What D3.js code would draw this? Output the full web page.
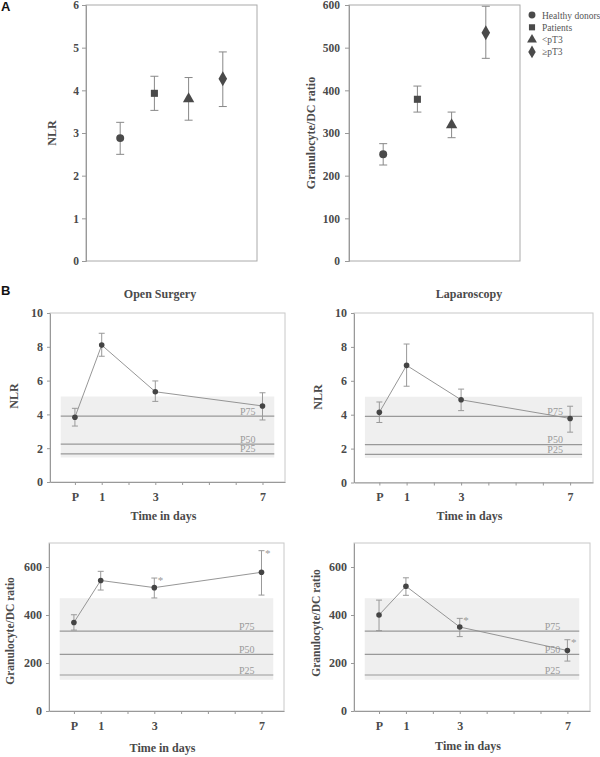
<!DOCTYPE html>
<html>
<head>
<meta charset="utf-8">
<title>NLR and Granulocyte/DC ratio</title>
<script src="https://cdn.jsdelivr.net/npm/d3@7/dist/d3.min.js"></script>
<style>
    body { margin: 0; background: #fff; }
    svg { display: block; }
    .lab { font-family: "Liberation Serif", serif; font-weight: bold; fill: #4a4a4a; }
    .domain, .tick line { stroke: #999; }
    .pct { font-family: "Liberation Serif", serif; font-size: 10px; fill: #9a9a9a; }
    .legend { font-family: "Liberation Serif", serif; font-size: 9.5px; fill: #555; }
    .panel { font-family: "Liberation Sans", Arial, sans-serif; font-weight: bold; font-size: 13px; fill: #111; }
</style>
</head>
<body>
<svg id="chart" width="600" height="757"></svg>
<script>
// panel A: groups
var groupNames = ["Healthy donors", "Patients", "<pT3", "\u2265pT3"];
var groupPos = [1, 2, 3, 4];
var nlrA = [2.88, 3.93, 3.8, 4.27];
var nlrALow = [2.5, 3.53, 3.3, 3.62];
var nlrAHigh = [3.25, 4.33, 4.3, 4.9];
var gdcA = [250, 379, 319, 535];
var gdcALow = [225, 349, 289, 475];
var gdcAHigh = [275, 410, 349, 597];
var nlrATicks = [0, 1, 2, 3, 4, 5, 6];
var gdcATicks = [0, 100, 200, 300, 400, 500, 600];

// panel B: time course
var days = [0, 1, 3, 7];
var dayLabels = ["P", "1", "3", "7"];
var dayTicks = [0, 1, 2, 3, 4, 5, 6, 7];
var openNlr = [3.83, 8.1, 5.34, 4.5];
var openNlrLow = [3.31, 7.44, 4.77, 3.67];
var openNlrHigh = [4.36, 8.8, 5.98, 5.28];
var lapNlr = [4.14, 6.91, 4.88, 3.78];
var lapNlrLow = [3.54, 5.68, 4.24, 2.97];
var lapNlrHigh = [4.75, 8.17, 5.51, 4.5];
var openGdc = [369, 544, 514, 578];
var openGdcLow = [337, 504, 471, 483];
var openGdcHigh = [401, 582, 554, 668];
var lapGdc = [400, 520, 350, 252];
var lapGdcLow = [335, 482, 310, 208];
var lapGdcHigh = [462, 555, 386, 297];
var openGdcStar = [0, 0, 1, 1];
var lapGdcStar = [0, 0, 1, 1];
var pctNames = ["P25", "P50", "P75"];
var nlrBand = [1.45, 5.06];
var nlrPct = [1.66, 2.24, 3.9];
var gdcBand = [130, 470];
var gdcPct = [150, 236, 333];
var nlrTicks = [0, 2, 4, 6, 8, 10];
var gdcTicks = [0, 200, 400, 600];

var svg = d3.select("#chart");
var shapes = [d3.symbolCircle, d3.symbolSquare, d3.symbolTriangle, d3.symbolDiamond];
var shapeSize = [50, 50, 56, 64];

function styleTicks(a, size) {
    a.selectAll("text")
        .attr("fill", "#4a4a4a")
        .style("font-family", "'Liberation Serif', serif")
        .style("font-weight", "bold")
        .style("font-size", size);
}

function groupPanel(o) {
    var x = d3.scaleLinear().domain([0, 5]).range([o.left, o.right]);
    var y = d3.scaleLinear().domain([0, o.yMax]).range([o.bottom, o.top]);
    var g = svg.append("g");

    g.append("rect").attr("x", o.left).attr("y", o.top)
        .attr("width", o.right - o.left).attr("height", o.bottom - o.top)
        .attr("fill", "none").attr("stroke", "#aaa");

    g.append("g").attr("transform", "translate(" + o.left + ",0)")
        .call(d3.axisLeft(y).tickValues(o.ticks).tickSize(4).tickPadding(o.pad).tickFormat(d3.format("d")))
        .call(styleTicks, "11.5px");

    g.append("text").attr("class", "lab").style("font-size", "12px")
        .attr("transform", "translate(" + o.labX + "," + o.labY + ") rotate(-90)")
        .attr("text-anchor", "middle").text(o.label);

    var idx = d3.range(o.values.length);
    g.selectAll(".err").data(idx).enter().append("path")
        .attr("fill", "none").attr("stroke", "#888")
        .attr("d", function (i) {
            var cx = x(groupPos[i]), y0 = y(o.low[i]), y1 = y(o.high[i]);
            return "M" + (cx - 4) + "," + y1 + "H" + (cx + 4) + "M" + cx + "," + y1 + "V" + y0 +
                "M" + (cx - 4) + "," + y0 + "H" + (cx + 4);
        });
    g.selectAll(".pt").data(idx).enter().append("path")
        .attr("fill", "#4a4a4a")
        .attr("transform", function (i) { return "translate(" + x(groupPos[i]) + "," + y(o.values[i]) + ")"; })
        .attr("d", function (i) { return d3.symbol(shapes[i], shapeSize[i])(); });
}

function timePanel(o) {
    var x = d3.scaleLinear().domain([-0.93, 7.84]).range([o.left, o.right]);
    var y = d3.scaleLinear().domain([0, o.yMax]).range([o.bottom, o.top]);
    var g = svg.append("g");

    g.append("rect").attr("x", o.left).attr("y", o.top)
        .attr("width", o.right - o.left).attr("height", o.bottom - o.top)
        .attr("fill", "none").attr("stroke", "#c8c8c8");

    g.append("rect").attr("x", x(-0.53)).attr("y", y(o.band[1]))
        .attr("width", x(7.44) - x(-0.53)).attr("height", y(o.band[0]) - y(o.band[1]))
        .attr("fill", "#efefef");

    g.selectAll(".pl").data(o.pct).enter().append("line")
        .attr("x1", x(-0.53)).attr("x2", x(7.44))
        .attr("y1", function (d) { return y(d); }).attr("y2", function (d) { return y(d); })
        .attr("stroke", "#999").attr("stroke-width", 1.2);
    g.selectAll(".pt-lab").data(o.pct).enter().append("text")
        .attr("class", "pct").attr("text-anchor", "middle")
        .attr("x", x(6.45)).attr("y", function (d) { return y(d) - 1.5; })
        .text(function (d, i) { return pctNames[i]; });

    g.append("g").attr("transform", "translate(" + o.left + ",0)")
        .call(d3.axisLeft(y).tickValues(o.ticks).tickSize(3).tickPadding(4).tickSizeOuter(0))
        .call(styleTicks, "12px");

    g.append("g").attr("transform", "translate(0," + o.bottom + ")")
        .call(d3.axisBottom(x).tickValues(dayTicks).tickSize(3).tickPadding(7).tickSizeOuter(0)
            .tickFormat(function (d) { var k = days.indexOf(d); return k < 0 ? "" : dayLabels[k]; }))
        .call(styleTicks, "12px");

    g.append("text").attr("class", "lab").style("font-size", "12px")
        .attr("x", o.titleX).attr("y", o.top - 15).attr("text-anchor", "middle")
        .text(o.title);
    g.append("text").attr("class", "lab").style("font-size", "12px")
        .attr("x", (o.left + o.right) / 2 - 4).attr("y", o.xLabY).attr("text-anchor", "middle")
        .text("Time in days");
    g.append("text").attr("class", "lab").style("font-size", o.labSize)
        .attr("transform", "translate(" + o.labX + "," + o.labY + ") rotate(-90)")
        .attr("text-anchor", "middle").text(o.label);

    var idx = d3.range(days.length);
    g.append("path")
        .attr("fill", "none").attr("stroke", "#8a8a8a").attr("stroke-width", 0.9)
        .attr("d", d3.line().x(function (i) { return x(days[i]); }).y(function (i) { return y(o.values[i]); })(idx));

    g.selectAll(".err").data(idx).enter().append("path")
        .attr("fill", "none").attr("stroke", "#999")
        .attr("d", function (i) {
            var cx = x(days[i]), y0 = y(o.low[i]), y1 = y(o.high[i]);
            return "M" + (cx - 3) + "," + y1 + "H" + (cx + 3) + "M" + cx + "," + y1 + "V" + y0 +
                "M" + (cx - 3) + "," + y0 + "H" + (cx + 3);
        });
    g.selectAll(".dot").data(idx).enter().append("circle")
        .attr("cx", function (i) { return x(days[i]); })
        .attr("cy", function (i) { return y(o.values[i]); })
        .attr("r", 2.8).attr("fill", "#444");

    if (o.stars) {
        g.selectAll(".star").data(idx.filter(function (i) { return o.stars[i]; })).enter().append("text")
            .attr("class", "pct").style("font-size", "11px")
            .attr("x", function (i) { return x(days[i]) + 3.5; })
            .attr("y", function (i) { return y(o.high[i]) + 6; })
            .text("*");
    }
}

// panel letters
svg.append("text").attr("class", "panel").attr("x", 1).attr("y", 11).text("A");
svg.append("text").attr("class", "panel").attr("x", 1).attr("y", 295).text("B");

groupPanel({left: 86, right: 257, top: 5, bottom: 261, yMax: 6, ticks: nlrATicks, pad: 3,
    label: "NLR", labX: 56, labY: 133, values: nlrA, low: nlrALow, high: nlrAHigh});
groupPanel({left: 349, right: 520, top: 5, bottom: 261, yMax: 600, ticks: gdcATicks, pad: 5,
    label: "Granulocyte/DC ratio", labX: 315, labY: 133, values: gdcA, low: gdcALow, high: gdcAHigh});

// legend
var legend = svg.append("g").selectAll("g").data(groupNames).enter().append("g")
    .attr("transform", function (d, i) { return "translate(532," + (15 + i * 12.3) + ")"; });
legend.append("path").attr("fill", "#4a4a4a")
    .attr("d", function (d, i) { return d3.symbol(shapes[i], shapeSize[i] * 0.75)(); });
legend.append("text").attr("class", "legend").attr("x", 10).attr("y", 3.5)
    .text(function (d) { return d; });

timePanel({left: 50, right: 285, top: 313, bottom: 482, yMax: 10, ticks: nlrTicks,
    title: "Open Surgery", titleX: 160, xLabY: 520, label: "NLR", labSize: "12px", labX: 18, labY: 396,
    values: openNlr, low: openNlrLow, high: openNlrHigh, band: nlrBand, pct: nlrPct});
timePanel({left: 354, right: 593, top: 313, bottom: 482.5, yMax: 10, ticks: nlrTicks,
    title: "Laparoscopy", titleX: 469, xLabY: 520, label: "NLR", labSize: "12px", labX: 322, labY: 397,
    values: lapNlr, low: lapNlrLow, high: lapNlrHigh, band: nlrBand, pct: nlrPct});
timePanel({left: 49, right: 284, top: 543, bottom: 711, yMax: 700, ticks: gdcTicks,
    title: "", titleX: 160, xLabY: 752, label: "Granulocyte/DC ratio", labSize: "11.5px", labX: 14, labY: 631,
    values: openGdc, low: openGdcLow, high: openGdcHigh, band: gdcBand, pct: gdcPct, stars: openGdcStar});
timePanel({left: 354, right: 590, top: 543, bottom: 711, yMax: 700, ticks: gdcTicks,
    title: "", titleX: 469, xLabY: 750, label: "Granulocyte/DC ratio", labSize: "11.5px", labX: 320, labY: 623,
    values: lapGdc, low: lapGdcLow, high: lapGdcHigh, band: gdcBand, pct: gdcPct, stars: lapGdcStar});
</script>
</body>
</html>
